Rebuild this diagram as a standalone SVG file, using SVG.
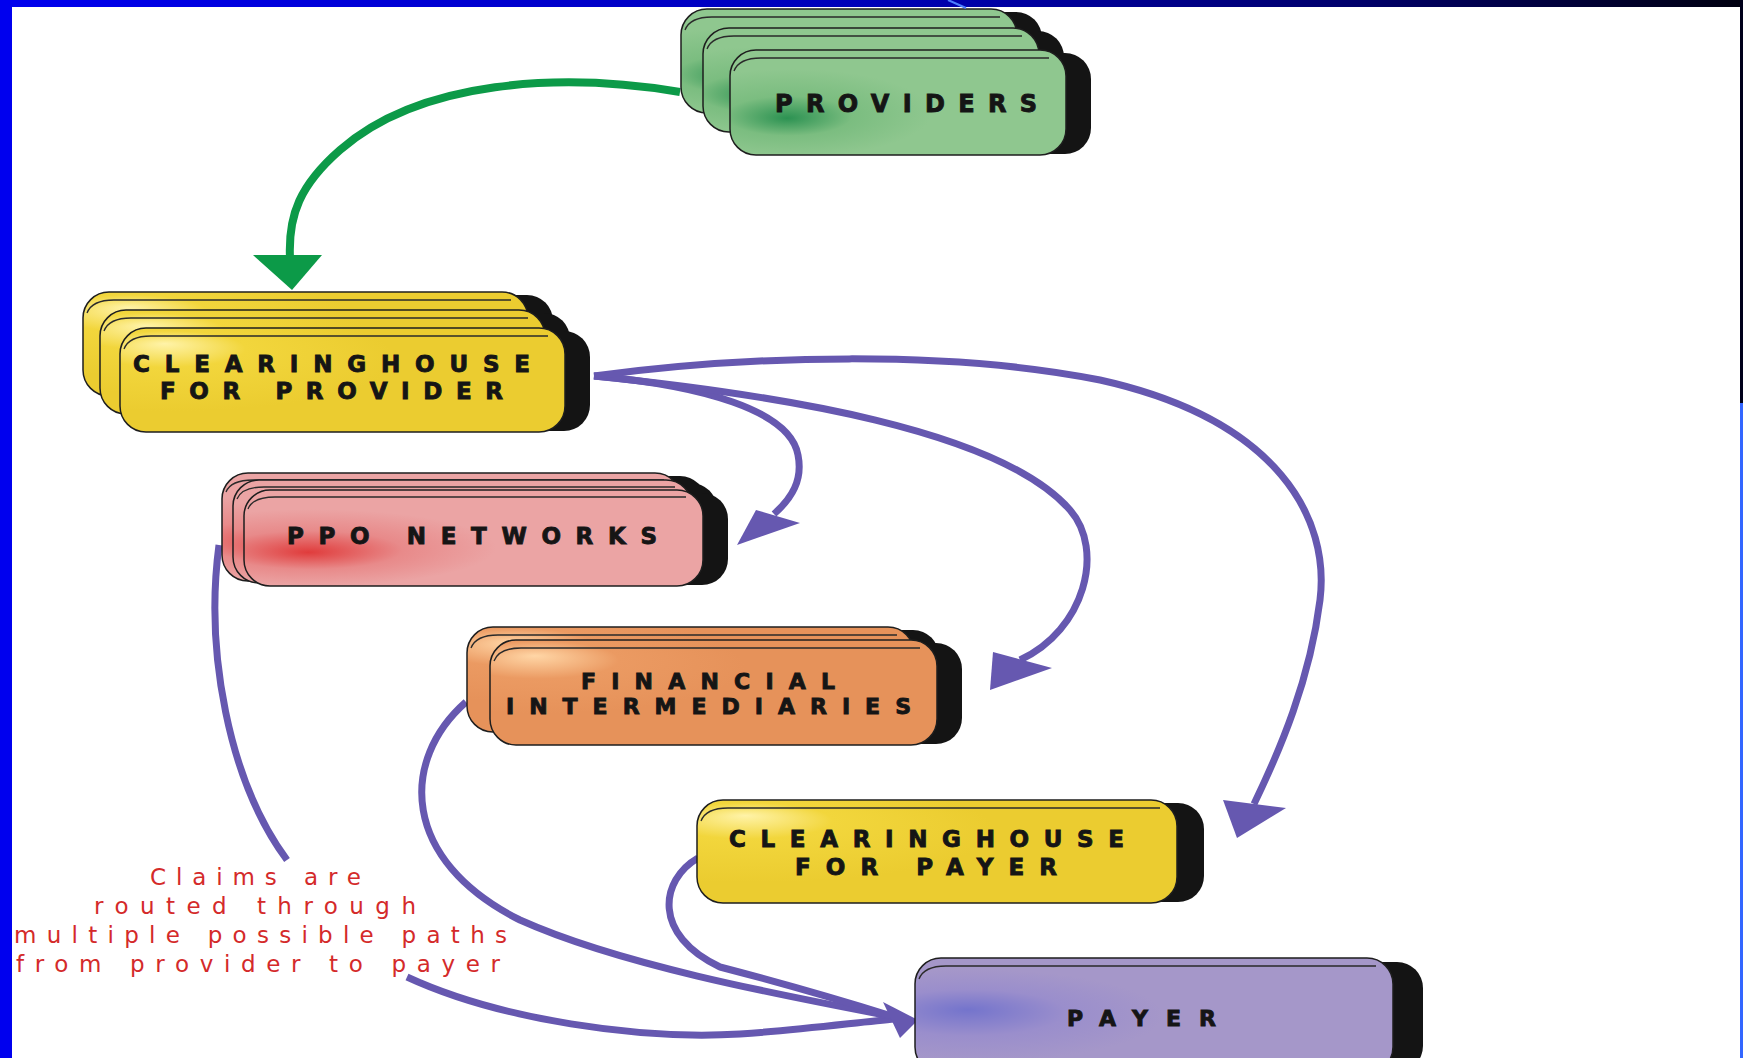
<svg xmlns="http://www.w3.org/2000/svg" width="1743" height="1058" viewBox="0 0 1743 1058">
<defs>
<linearGradient id="topbar" x1="0" y1="0" x2="1" y2="0">
<stop offset="0" stop-color="#0000ee"/><stop offset="0.5" stop-color="#0000b8"/><stop offset="0.78" stop-color="#00006a"/><stop offset="1" stop-color="#00000f"/>
</linearGradient>
<radialGradient id="gGreen" cx="0.18" cy="0.6" r="0.42" fx="0.17" fy="0.65">
<stop offset="0" stop-color="#2c9252"/><stop offset="0.45" stop-color="#7bbd80"/><stop offset="1" stop-color="#8fc78f"/>
</radialGradient>
<radialGradient id="gYellow" cx="0.12" cy="0.3" r="0.5" fx="0.1" fy="0.15">
<stop offset="0" stop-color="#fff3a8"/><stop offset="0.35" stop-color="#f2d63c"/><stop offset="1" stop-color="#ebcc30"/>
</radialGradient>
<radialGradient id="gPink" cx="0.15" cy="0.6" r="0.4" fx="0.14" fy="0.65">
<stop offset="0" stop-color="#e03c3c"/><stop offset="0.5" stop-color="#e88a8a"/><stop offset="1" stop-color="#eba4a4"/>
</radialGradient>
<radialGradient id="gOrange" cx="0.12" cy="0.25" r="0.45" fx="0.1" fy="0.15">
<stop offset="0" stop-color="#ffd6a6"/><stop offset="0.4" stop-color="#eb9a62"/><stop offset="1" stop-color="#e6925a"/>
</radialGradient>
<radialGradient id="gPurple" cx="0.12" cy="0.5" r="0.4" fx="0.11" fy="0.45">
<stop offset="0" stop-color="#7474cc"/><stop offset="0.5" stop-color="#9a8ecc"/><stop offset="1" stop-color="#a597c9"/>
</radialGradient>
<style>
.side{fill:#141414;}
.face{stroke:#1e1e1e;stroke-width:1.5;}
.bevel{fill:none;stroke:#2a2a2a;stroke-width:1.3;}
.lbl{font-family:"DejaVu Sans","Liberation Sans",sans-serif;font-weight:bold;fill:#151515;stroke:#151515;stroke-width:0.9;}
.note{font-family:"DejaVu Sans","Liberation Sans",sans-serif;font-size:23px;fill:#d42a2a;}
.pl{fill:none;stroke:#6658b0;stroke-width:7;}
.ph{fill:#6658b0;}
.gl{fill:none;stroke:#0c9a48;stroke-width:8;}
.gh{fill:#0c9a48;}
</style>
</defs>

<rect x="0" y="0" width="1743" height="1058" fill="#ffffff"/>

<g id="connectors">
<path class="gl" d="M 680 92 C 560 72, 420 80, 340 150 C 300 185, 288 215, 290 258"/>
<polygon class="gh" points="253,255 322,255 292,290"/>

<path class="pl" d="M 594 376 C 700 385, 790 410, 798 455 C 803 480, 792 498, 774 514"/>
<polygon class="ph" points="756,510 800,523 737,545"/>

<path class="pl" d="M 594 376 C 780 395, 1000 430, 1070 510 C 1105 550, 1085 630, 1020 660"/>
<polygon class="ph" points="993,652 1052,668 990,690"/>

<path class="pl" d="M 594 376 C 750 355, 950 350, 1100 380 C 1280 420, 1330 520, 1320 600 C 1310 680, 1280 750, 1254 804"/>
<polygon class="ph" points="1223,800 1286,808 1237,838"/>

<path class="pl" d="M 219 545 C 205 650, 228 780, 287 860 M 407 977 C 500 1020, 640 1040, 740 1034 C 800 1030, 860 1022, 895 1019"/>
<path class="pl" d="M 466 702 C 400 760, 400 860, 520 920 C 620 965, 780 995, 895 1017"/>
<path class="pl" d="M 698 858 C 660 880, 652 935, 720 967 C 770 980, 840 1000, 895 1017"/>
<polygon class="ph" points="883,1002 918,1020 900,1038"/>
</g>

<g id="providers">
<rect class="side" x="706" y="12" width="336" height="100" rx="26"/>
<rect class="face" x="681" y="9" width="336" height="104" rx="26" fill="url(#gGreen)"/>
<path class="bevel" d="M 685 30 Q 690 17 712 17 H 1000"/>
<rect class="side" x="728" y="31" width="336" height="100" rx="26"/>
<rect class="face" x="703" y="28" width="336" height="104" rx="26" fill="url(#gGreen)"/>
<path class="bevel" d="M 707 49 Q 712 36 734 36 H 1022"/>
<rect class="side" x="755" y="53" width="336" height="101" rx="26"/>
<rect class="face" x="730" y="50" width="336" height="105" rx="26" fill="url(#gGreen)"/>
<path class="bevel" d="M 734 71 Q 739 58 761 58 H 1049"/>
<text class="lbl" x="775" y="112" font-size="24" textLength="262" lengthAdjust="spacing">PROVIDERS</text>
</g>

<g id="clearinghouse-provider">
<rect class="side" x="108" y="295" width="445" height="100" rx="26"/>
<rect class="face" x="83" y="292" width="445" height="104" rx="26" fill="url(#gYellow)"/>
<path class="bevel" d="M 87 313 Q 92 300 114 300 H 511"/>
<rect class="side" x="125" y="313" width="445" height="100" rx="26"/>
<rect class="face" x="100" y="310" width="445" height="104" rx="26" fill="url(#gYellow)"/>
<path class="bevel" d="M 104 331 Q 109 318 131 318 H 528"/>
<rect class="side" x="145" y="331" width="445" height="100" rx="26"/>
<rect class="face" x="120" y="328" width="445" height="104" rx="26" fill="url(#gYellow)"/>
<path class="bevel" d="M 124 349 Q 129 336 151 336 H 548"/>
<text class="lbl" x="133" y="372" font-size="23" textLength="397" lengthAdjust="spacing">CLEARINGHOUSE</text>
<text class="lbl" x="160" y="399" font-size="23" textLength="343" lengthAdjust="spacing">FOR PROVIDER</text>
</g>

<g id="ppo-networks">
<rect class="side" x="247" y="476" width="459" height="104" rx="26"/>
<rect class="face" x="222" y="473" width="459" height="108" rx="26" fill="url(#gPink)"/>
<path class="bevel" d="M 226 492 Q 231 480 253 480 H 664"/>
<rect class="side" x="258" y="483" width="459" height="99" rx="26"/>
<rect class="face" x="233" y="480" width="459" height="103" rx="26" fill="url(#gPink)"/>
<path class="bevel" d="M 237 499 Q 242 487 264 487 H 675"/>
<rect class="side" x="269" y="493" width="459" height="92" rx="26"/>
<rect class="face" x="244" y="490" width="459" height="96" rx="26" fill="url(#gPink)"/>
<path class="bevel" d="M 248 509 Q 253 497 275 497 H 686"/>
<text class="lbl" x="287" y="544" font-size="23" textLength="370" lengthAdjust="spacing">PPO NETWORKS</text>
</g>

<g id="financial-intermediaries">
<rect class="side" x="492" y="630" width="447" height="101" rx="26"/>
<rect class="face" x="467" y="627" width="447" height="105" rx="26" fill="url(#gOrange)"/>
<path class="bevel" d="M 471 648 Q 476 635 498 635 H 897"/>
<rect class="side" x="515" y="643" width="447" height="101" rx="26"/>
<rect class="face" x="490" y="640" width="447" height="105" rx="26" fill="url(#gOrange)"/>
<path class="bevel" d="M 494 661 Q 499 648 521 648 H 920"/>
<text class="lbl" x="581" y="689" font-size="22" textLength="254" lengthAdjust="spacing">FINANCIAL</text>
<text class="lbl" x="506" y="714" font-size="22" textLength="405" lengthAdjust="spacing">INTERMEDIARIES</text>
</g>

<g id="clearinghouse-payer">
<rect class="side" x="724" y="803" width="480" height="99" rx="26"/>
<rect class="face" x="697" y="800" width="480" height="103" rx="26" fill="url(#gYellow)"/>
<path class="bevel" d="M 701 821 Q 706 808 728 808 H 1160"/>
<text class="lbl" x="729" y="847" font-size="23" textLength="395" lengthAdjust="spacing">CLEARINGHOUSE</text>
<text class="lbl" x="795" y="875" font-size="23" textLength="262" lengthAdjust="spacing">FOR PAYER</text>
</g>

<g id="payer">
<rect class="side" x="943" y="962" width="480" height="110" rx="26"/>
<rect class="face" x="915" y="958" width="478" height="115" rx="26" fill="url(#gPurple)"/>
<path class="bevel" d="M 919 979 Q 924 966 946 966 H 1376"/>
<text class="lbl" x="1067" y="1026" font-size="22" textLength="149" lengthAdjust="spacing">PAYER</text>
</g>

<g id="note">
<text class="note" x="150" y="885" textLength="211" lengthAdjust="spacing">Claims are</text>
<text class="note" x="94" y="914" textLength="322" lengthAdjust="spacing">routed through</text>
<text class="note" x="14" y="943" textLength="493" lengthAdjust="spacing">multiple possible paths</text>
<text class="note" x="16" y="972" textLength="484" lengthAdjust="spacing">from provider to payer</text>
</g>

<g id="frame">
<rect x="0" y="0" width="1743" height="7" fill="url(#topbar)"/>
<rect x="0" y="0" width="12" height="1058" fill="#0000ee"/>
<rect x="1740" y="0" width="3" height="403" fill="#00001a"/>
<rect x="1740" y="403" width="3" height="655" fill="#3366ff"/>
<line x1="948" y1="0" x2="966" y2="8" stroke="#4d7fff" stroke-width="2"/>
</g>
</svg>
